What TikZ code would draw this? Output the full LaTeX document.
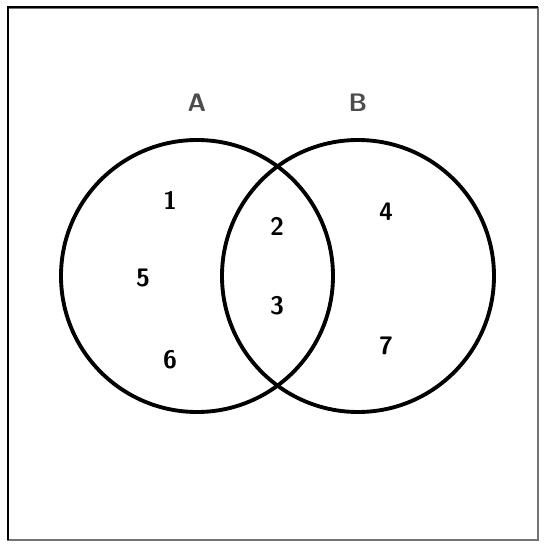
\documentclass[tikz,border=0pt]{standalone}
\usepackage{tikz}
\usetikzlibrary{positioning}

\begin{document}
\begin{tikzpicture}[x=0.02cm,y=-0.02cm,
  setlabel/.style={font=\sffamily\bfseries\Large,text=black!70},
  elem/.style={font=\sffamily\bfseries\Large}]
  \useasboundingbox (0,0) rectangle (545,545);
  \draw[black!55,line width=0.8pt] (8,8) rectangle (538,540);
  \draw[line width=1.6pt] (8,540) -- (8,7) -- (538,7);
  \draw[line width=2.2pt] (197,276) circle (136);
  \draw[line width=2.2pt] (358,276) circle (136);
  \node[setlabel] (A) at (197,103) {A};
  \node[setlabel] (B) at (358,103) {B};
  \node[elem] (e1) at (170,200) {1};
  \node[elem] (e5) at (143,278) {5};
  \node[elem] (e6) at (170,360) {6};
  \node[elem] (e2) at (277,226) {2};
  \node[elem] (e3) at (277,306) {3};
  \node[elem] (e4) at (386,212) {4};
  \node[elem] (e7) at (386,346) {7};
\end{tikzpicture}
\end{document}
